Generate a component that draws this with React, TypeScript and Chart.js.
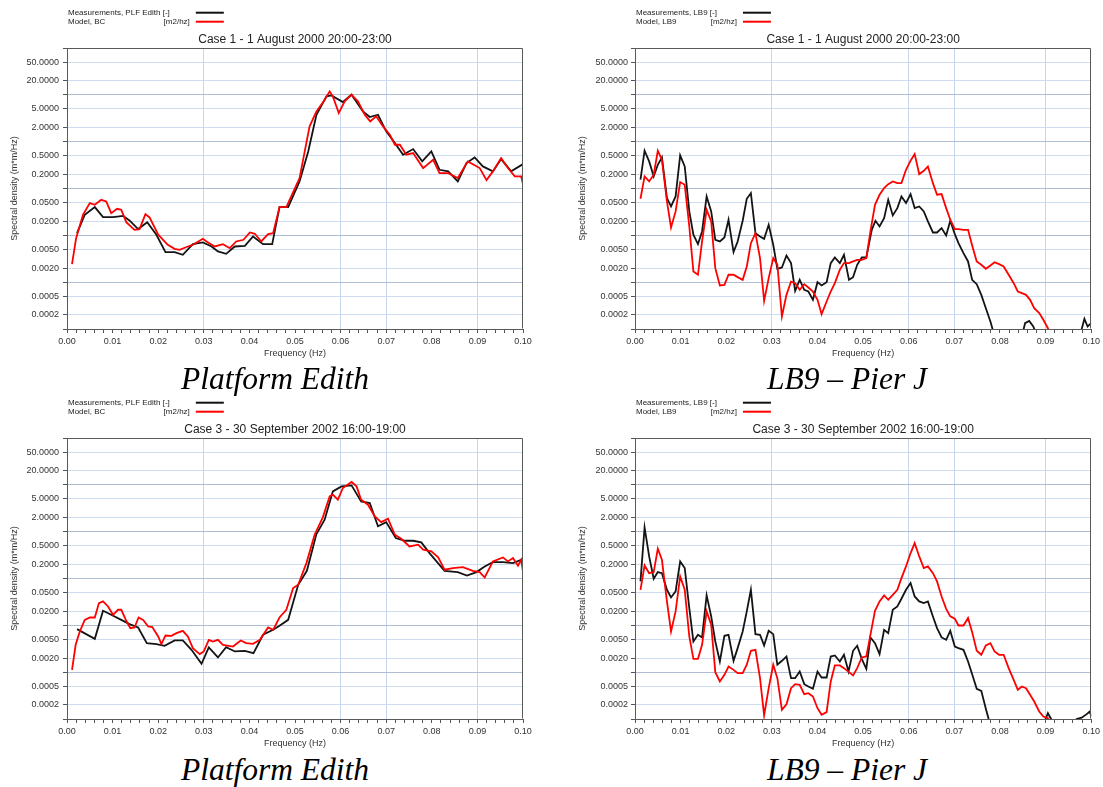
import React, { useEffect, useRef } from 'react';
import { Chart, registerables } from 'chart.js';

Chart.register(...registerables);

type Pt = [number, number];

const FONT = 'Arial, "Liberation Sans", Helvetica, sans-serif';

// ---- axis definitions ----
const Y_TICKS = [0.0001, 0.0002, 0.0005, 0.001, 0.002, 0.005, 0.01, 0.02, 0.05, 0.1, 0.2, 0.5, 1, 2, 5, 10, 20, 50, 100];
const Y_LABELED = [0.0002, 0.0005, 0.002, 0.005, 0.02, 0.05, 0.2, 0.5, 2, 5, 20, 50];
const Y_DECADES = [0.001, 0.01, 0.1, 1, 10];
const X_GRID = [0.03, 0.06, 0.07, 0.09];
const X_TITLE = 'Frequency (Hz)';
const Y_TITLE = 'Spectral density (m*m/Hz)';
const UNIT_LABEL = '[m2/hz]';

// ---- titles / captions ----
const TITLE_CASE1 = 'Case 1 - 1 August 2000 20:00-23:00';
const TITLE_CASE3 = 'Case 3 - 30 September 2002 16:00-19:00';
const CAPTION_EDITH = 'Platform Edith';
const CAPTION_LB9 = 'LB9 \u2013 Pier J';

// ---- data: [frequency (Hz), spectral density] ----
const edithCase1Meas: Pt[] = [
  [0.0022, 0.0111], [0.0039, 0.0275], [0.0061, 0.0401], [0.0079, 0.0245], [0.0101, 0.0245], [0.0123, 0.0261],
  [0.0137, 0.0208], [0.0156, 0.0136], [0.0176, 0.0191], [0.0196, 0.0103], [0.0216, 0.00438], [0.0236, 0.00438],
  [0.0254, 0.00384], [0.0276, 0.00649], [0.0298, 0.00705], [0.0317, 0.00578], [0.0331, 0.00452], [0.0349, 0.00403],
  [0.0368, 0.00578], [0.039, 0.00597], [0.0408, 0.00946], [0.043, 0.00649], [0.045, 0.00649], [0.0466, 0.0401],
  [0.0485, 0.0401], [0.051, 0.1416], [0.0529, 0.619], [0.0547, 3.76], [0.0569, 9.27], [0.058, 9.74],
  [0.0605, 7.02], [0.0624, 10.07], [0.0649, 4.43], [0.0664, 3.36], [0.0682, 3.76], [0.07, 1.66],
  [0.0719, 0.933], [0.0737, 0.526], [0.0759, 0.695], [0.0779, 0.379], [0.0799, 0.619], [0.0817, 0.251],
  [0.0836, 0.232], [0.0857, 0.1416], [0.0876, 0.349], [0.0894, 0.461], [0.0912, 0.296], [0.0934, 0.232],
  [0.0952, 0.425], [0.0974, 0.232], [0.1, 0.332],
];
const edithCase1Model: Pt[] = [
  [0.0011, 0.00243], [0.002, 0.00871], [0.0035, 0.0275], [0.005, 0.0488], [0.0061, 0.0449], [0.0075, 0.0574],
  [0.0086, 0.053], [0.0097, 0.0298], [0.011, 0.0369], [0.0119, 0.0351], [0.013, 0.0191], [0.0148, 0.0131],
  [0.0159, 0.0136], [0.0172, 0.0284], [0.0181, 0.0241], [0.02, 0.0103], [0.0221, 0.00628], [0.0236, 0.00515],
  [0.0247, 0.00491], [0.0265, 0.00578], [0.0276, 0.00628], [0.0298, 0.00843], [0.0306, 0.0074], [0.0324, 0.00578],
  [0.0342, 0.00649], [0.0357, 0.00532], [0.0371, 0.0074], [0.0387, 0.00803], [0.0401, 0.0115], [0.0412, 0.0108],
  [0.0426, 0.0074], [0.0441, 0.0106], [0.0452, 0.0111], [0.0466, 0.0401], [0.0481, 0.0401], [0.051, 0.167],
  [0.0532, 2.12], [0.0547, 4.43], [0.0563, 7.25], [0.0576, 11.86], [0.0583, 9.27], [0.0596, 4.08],
  [0.0609, 7.25], [0.0624, 10.07], [0.0638, 7.25], [0.0653, 3.76], [0.0665, 2.71], [0.0678, 3.47],
  [0.0693, 2.12], [0.0708, 1.41], [0.0719, 0.86], [0.073, 0.86], [0.0744, 0.526], [0.0759, 0.57],
  [0.0781, 0.273], [0.0803, 0.411], [0.0817, 0.213], [0.0836, 0.213], [0.0857, 0.167], [0.0879, 0.379],
  [0.0905, 0.273], [0.092, 0.151], [0.0934, 0.232], [0.0952, 0.447], [0.0967, 0.273], [0.0982, 0.181],
  [0.0996, 0.181], [0.1, 0.124],
];
const edithCase3Meas: Pt[] = [
  [0.0022, 0.0083], [0.0061, 0.00515], [0.0079, 0.0205], [0.0097, 0.0168], [0.0119, 0.0131], [0.0137, 0.0106],
  [0.0156, 0.009], [0.0175, 0.00417], [0.0196, 0.00397], [0.0214, 0.00366], [0.0236, 0.00475], [0.0254, 0.00475],
  [0.0273, 0.003], [0.0295, 0.00151], [0.0311, 0.00337], [0.0331, 0.00206], [0.0349, 0.00342], [0.0368, 0.00277],
  [0.039, 0.00286], [0.0409, 0.00255], [0.043, 0.00628], [0.0452, 0.00803], [0.0466, 0.00977], [0.0485, 0.0131],
  [0.0507, 0.0735], [0.0526, 0.146], [0.0547, 0.889], [0.0565, 1.8], [0.0583, 7.25], [0.0602, 9.27],
  [0.0624, 9.74], [0.0645, 4.43], [0.0664, 4.08], [0.0682, 1.3], [0.07, 1.6], [0.0721, 0.73],
  [0.0741, 0.64], [0.0759, 0.64], [0.0777, 0.59], [0.0795, 0.349], [0.0828, 0.146], [0.0857, 0.137],
  [0.0877, 0.116], [0.0898, 0.137], [0.0916, 0.181], [0.0934, 0.224], [0.0956, 0.224], [0.0978, 0.213],
  [0.1, 0.26],
];
const edithCase3Model: Pt[] = [
  [0.0011, 0.00112], [0.0019, 0.00384], [0.0028, 0.0074], [0.0039, 0.0131], [0.005, 0.0147], [0.0061, 0.0147],
  [0.007, 0.0298], [0.0079, 0.0324], [0.009, 0.0253], [0.0101, 0.0168], [0.0112, 0.0215], [0.0119, 0.0215],
  [0.013, 0.0125], [0.0139, 0.00871], [0.0148, 0.009], [0.0157, 0.0147], [0.0167, 0.0131], [0.0178, 0.00946],
  [0.0187, 0.0092], [0.02, 0.00578], [0.0207, 0.00397], [0.0216, 0.00607], [0.0229, 0.00597], [0.024, 0.00681],
  [0.0254, 0.00764], [0.0265, 0.00578], [0.0276, 0.00326], [0.0291, 0.00243], [0.03, 0.00277], [0.0311, 0.00491],
  [0.032, 0.00452], [0.0331, 0.00491], [0.0342, 0.00384], [0.0364, 0.00353], [0.0381, 0.00475], [0.0393, 0.00417],
  [0.0408, 0.00403], [0.0423, 0.00491], [0.0441, 0.009], [0.0452, 0.00803], [0.0466, 0.0147], [0.0481, 0.0215],
  [0.0496, 0.0624], [0.0507, 0.0735], [0.0525, 0.213], [0.0543, 0.86], [0.0561, 2.02], [0.0576, 5.67],
  [0.0583, 6.15], [0.0594, 4.81], [0.0605, 8.55], [0.0624, 11.5], [0.0635, 9.27], [0.0645, 4.81],
  [0.066, 3.76], [0.0675, 2.12], [0.0689, 1.6], [0.0704, 1.89], [0.0719, 0.86], [0.0733, 0.706],
  [0.0751, 0.484], [0.077, 0.526], [0.0781, 0.411], [0.0799, 0.379], [0.0814, 0.282], [0.0828, 0.154],
  [0.0846, 0.167], [0.0868, 0.175], [0.089, 0.146], [0.0905, 0.137], [0.0916, 0.105], [0.0934, 0.232],
  [0.0956, 0.282], [0.0967, 0.232], [0.0978, 0.273], [0.0989, 0.187], [0.0996, 0.251], [0.1, 0.1416],
];
const lb9Case1Meas: Pt[] = [
  [0.0012, 0.154], [0.0021, 0.64], [0.0031, 0.379], [0.0041, 0.181], [0.005, 0.321], [0.0059, 0.461],
  [0.007, 0.0624], [0.0079, 0.0414], [0.0089, 0.0677], [0.0099, 0.509], [0.0109, 0.296], [0.0119, 0.0324],
  [0.0128, 0.0103], [0.0138, 0.00649], [0.0147, 0.0121], [0.0157, 0.0677], [0.0167, 0.0324], [0.0176, 0.00803],
  [0.0186, 0.0074], [0.0196, 0.009], [0.0205, 0.0215], [0.0216, 0.00438], [0.0225, 0.0074], [0.0236, 0.0205],
  [0.0245, 0.0604], [0.0254, 0.0798], [0.0264, 0.0111], [0.0274, 0.00946], [0.0283, 0.00843], [0.0293, 0.0168],
  [0.0303, 0.00628], [0.0312, 0.00193], [0.0322, 0.00206], [0.0332, 0.00372], [0.0342, 0.00255], [0.0351, 0.000653],
  [0.0361, 0.00112], [0.0371, 0.000686], [0.038, 0.000632], [0.039, 0.00042], [0.04, 0.001], [0.0409, 0.000849],
  [0.042, 0.001], [0.0429, 0.00255], [0.0438, 0.00337], [0.0449, 0.00255], [0.0458, 0.00384], [0.0469, 0.00112],
  [0.0478, 0.00128], [0.0487, 0.00235], [0.0497, 0.00337], [0.0507, 0.00337], [0.0519, 0.0131], [0.0527, 0.0205],
  [0.0536, 0.0155], [0.0546, 0.0233], [0.0555, 0.0574], [0.0565, 0.0266], [0.0575, 0.0381], [0.0584, 0.0677],
  [0.0594, 0.0488], [0.0604, 0.0759], [0.0613, 0.0381], [0.0623, 0.0414], [0.0633, 0.0324], [0.0642, 0.0198],
  [0.0653, 0.0115], [0.0662, 0.0115], [0.0672, 0.0143], [0.0682, 0.00993], [0.0691, 0.0205], [0.0701, 0.0106],
  [0.0709, 0.00681], [0.072, 0.00417], [0.073, 0.00277], [0.0739, 0.00112], [0.0749, 0.000906], [0.0759, 0.000536],
  [0.0769, 0.000278], [0.0779, 0.000145], [0.079, 0.00006], [0.0848, 0.00007], [0.0855, 0.000133], [0.0864, 0.000149],
  [0.0873, 0.000113], [0.0884, 0.00006], [0.0975, 0.00007], [0.0985, 0.000165], [0.0992, 0.000113], [0.1, 0.000133],
];
const lb9Case1Model: Pt[] = [
  [0.0012, 0.0604], [0.0021, 0.181], [0.0031, 0.1416], [0.0041, 0.197], [0.005, 0.64], [0.0059, 0.411],
  [0.007, 0.053], [0.0079, 0.0147], [0.0089, 0.0324], [0.0099, 0.137], [0.0109, 0.12], [0.0119, 0.0155],
  [0.0128, 0.00169], [0.0138, 0.00144], [0.0147, 0.0074], [0.0157, 0.0351], [0.0167, 0.0198], [0.0176, 0.00199],
  [0.0186, 0.000849], [0.0196, 0.000877], [0.0205, 0.00144], [0.0216, 0.00144], [0.0225, 0.00128], [0.0236, 0.00112],
  [0.0245, 0.00216], [0.0254, 0.00681], [0.0264, 0.0111], [0.0274, 0.00326], [0.0283, 0.000399], [0.0293, 0.00122],
  [0.0303, 0.00326], [0.0312, 0.00235], [0.0322, 0.000185], [0.0332, 0.000536], [0.0342, 0.00103], [0.0351, 0.000952],
  [0.0361, 0.000686], [0.0371, 0.000906], [0.038, 0.000769], [0.039, 0.000632], [0.04, 0.00042], [0.0409, 0.000207],
  [0.042, 0.000386], [0.0429, 0.000632], [0.0438, 0.000952], [0.0449, 0.00184], [0.0458, 0.00255], [0.0469, 0.00255],
  [0.0478, 0.00277], [0.0487, 0.003], [0.0497, 0.003], [0.0507, 0.00326], [0.0516, 0.0121], [0.0526, 0.0449],
  [0.0536, 0.0735], [0.0546, 0.102], [0.0555, 0.124], [0.0565, 0.1416], [0.0575, 0.13], [0.0584, 0.13],
  [0.0594, 0.251], [0.0604, 0.392], [0.0613, 0.543], [0.0623, 0.203], [0.0633, 0.239], [0.0642, 0.296],
  [0.0653, 0.13], [0.0662, 0.0735], [0.0672, 0.0759], [0.0682, 0.0381], [0.0691, 0.0215], [0.0701, 0.0136],
  [0.0709, 0.0136], [0.072, 0.0131], [0.073, 0.0131], [0.0739, 0.00607], [0.0749, 0.00277], [0.0759, 0.00235],
  [0.0769, 0.00193], [0.0779, 0.00227], [0.0788, 0.00267], [0.0798, 0.00243], [0.0808, 0.00216], [0.0819, 0.00144],
  [0.083, 0.000952], [0.0839, 0.000632], [0.0848, 0.000582], [0.0857, 0.000536], [0.0866, 0.00042], [0.0875, 0.000278],
  [0.0886, 0.000218], [0.0895, 0.000157], [0.0905, 0.000104], [0.0913, 0.00007],
];
const lb9Case3Meas: Pt[] = [
  [0.0012, 0.0866], [0.0021, 1.23], [0.0031, 0.296], [0.0041, 0.0987], [0.005, 0.137], [0.0059, 0.13],
  [0.007, 0.0574], [0.0079, 0.0394], [0.0089, 0.053], [0.0099, 0.232], [0.0109, 0.167], [0.0119, 0.0233],
  [0.0128, 0.00452], [0.0138, 0.00628], [0.0147, 0.00551], [0.0157, 0.0435], [0.0167, 0.0155], [0.0176, 0.00452],
  [0.0186, 0.00169], [0.0196, 0.00597], [0.0205, 0.00628], [0.0216, 0.00175], [0.0225, 0.00326], [0.0236, 0.0074],
  [0.0245, 0.0198], [0.0254, 0.0574], [0.0264, 0.00649], [0.0274, 0.00628], [0.0283, 0.00372], [0.0293, 0.00764],
  [0.0303, 0.00649], [0.0312, 0.00144], [0.0322, 0.00175], [0.0332, 0.00216], [0.0342, 0.000745], [0.0351, 0.000745],
  [0.0361, 0.00103], [0.0371, 0.000554], [0.038, 0.000494], [0.039, 0.000441], [0.04, 0.00103], [0.0409, 0.000769],
  [0.042, 0.000769], [0.0429, 0.00216], [0.0438, 0.00227], [0.0449, 0.00169], [0.0458, 0.00235], [0.0468, 0.00103],
  [0.0478, 0.00286], [0.0487, 0.00366], [0.0497, 0.00193], [0.0507, 0.00118], [0.0516, 0.00551], [0.0526, 0.00417],
  [0.0536, 0.00243], [0.0546, 0.00803], [0.0555, 0.00681], [0.0565, 0.0215], [0.0575, 0.0253], [0.0584, 0.0369],
  [0.0594, 0.0574], [0.0604, 0.0798], [0.0613, 0.0414], [0.0623, 0.0324], [0.0633, 0.0298], [0.0642, 0.0324],
  [0.0653, 0.0155], [0.0662, 0.00871], [0.0672, 0.00551], [0.0682, 0.00491], [0.0691, 0.00764], [0.0701, 0.00353],
  [0.0709, 0.00326], [0.072, 0.003], [0.073, 0.00169], [0.0739, 0.000906], [0.0749, 0.000441], [0.0759, 0.000399],
  [0.0769, 0.000165], [0.0775, 0.000101], [0.0782, 0.00006], [0.0891, 0.00006], [0.0905, 0.000133], [0.0912, 0.0001],
  [0.0921, 0.00006], [0.0957, 0.00006], [0.0968, 0.0001], [0.0979, 0.000107], [0.099, 0.000127], [0.0997, 0.000145],
  [0.1, 0.000113],
];
const lb9Case3Model: Pt[] = [
  [0.0012, 0.0574], [0.0021, 0.19], [0.0031, 0.13], [0.0041, 0.137], [0.005, 0.432], [0.0059, 0.251],
  [0.007, 0.0324], [0.0079, 0.0074], [0.0089, 0.0198], [0.0099, 0.111], [0.0109, 0.0574], [0.0119, 0.00578],
  [0.0128, 0.00193], [0.0138, 0.00193], [0.0147, 0.00384], [0.0157, 0.0198], [0.0167, 0.0103], [0.0176, 0.001],
  [0.0186, 0.000632], [0.0196, 0.000877], [0.0205, 0.00132], [0.0216, 0.00112], [0.0225, 0.000952], [0.0236, 0.000952],
  [0.0245, 0.00144], [0.0254, 0.00286], [0.0264, 0.003], [0.0274, 0.000745], [0.0283, 0.000119], [0.0293, 0.000455],
  [0.0303, 0.00144], [0.0312, 0.000745], [0.0322, 0.000157], [0.0332, 0.000207], [0.0342, 0.000455], [0.0351, 0.000554],
  [0.0361, 0.000536], [0.0371, 0.000339], [0.038, 0.000356], [0.039, 0.000302], [0.04, 0.00017], [0.0409, 0.000123],
  [0.042, 0.00014], [0.0429, 0.000632], [0.0438, 0.00139], [0.0449, 0.00139], [0.0458, 0.00122], [0.0469, 0.001],
  [0.0478, 0.000849], [0.0487, 0.00122], [0.0497, 0.00206], [0.0507, 0.00216], [0.0516, 0.00628], [0.0526, 0.0205],
  [0.0536, 0.0324], [0.0546, 0.0435], [0.0555, 0.0351], [0.0565, 0.0449], [0.0575, 0.0574], [0.0584, 0.102],
  [0.0594, 0.181], [0.0604, 0.349], [0.0613, 0.57], [0.0623, 0.296], [0.0633, 0.167], [0.0642, 0.181],
  [0.0653, 0.13], [0.0662, 0.0866], [0.0672, 0.0414], [0.0682, 0.0225], [0.0691, 0.0155], [0.0701, 0.0138],
  [0.0709, 0.00993], [0.072, 0.00993], [0.073, 0.0143], [0.0739, 0.00716], [0.0749, 0.00286], [0.0759, 0.00235],
  [0.0769, 0.00372], [0.0779, 0.00417], [0.0788, 0.00277], [0.0798, 0.00235], [0.0808, 0.00235], [0.0819, 0.00122],
  [0.083, 0.000686], [0.0839, 0.00042], [0.0848, 0.000494], [0.0857, 0.000455], [0.0866, 0.000328], [0.0875, 0.000236],
  [0.0886, 0.000145], [0.0895, 0.000113], [0.0905, 0.000104], [0.091, 0.00007],
];

interface PanelCfg {
  key: string;
  left: number;
  top: number;
  width: number;
  height: number;
  padLeft: number;
  padRight: number;
  labelPad: number;
  title: string;
  measLabel: string;
  modelLabel: string;
  meas: Pt[];
  model: Pt[];
}

const PANELS: PanelCfg[] = [
  { key: 'tl', left: 0, top: 0, width: 552, height: 362, padLeft: 0, padRight: 29, labelPad: 4, title: TITLE_CASE1,
    measLabel: 'Measurements, PLF Edith [-]', modelLabel: 'Model, BC', meas: edithCase1Meas, model: edithCase1Model },
  { key: 'tr', left: 560, top: 0, width: 543, height: 362, padLeft: 8, padRight: 10, labelPad: 3, title: TITLE_CASE1,
    measLabel: 'Measurements, LB9 [-]', modelLabel: 'Model, LB9', meas: lb9Case1Meas, model: lb9Case1Model },
  { key: 'bl', left: 0, top: 390, width: 552, height: 362, padLeft: 0, padRight: 29, labelPad: 4, title: TITLE_CASE3,
    measLabel: 'Measurements, PLF Edith [-]', modelLabel: 'Model, BC', meas: edithCase3Meas, model: edithCase3Model },
  { key: 'br', left: 560, top: 390, width: 543, height: 362, padLeft: 8, padRight: 10, labelPad: 3, title: TITLE_CASE3,
    measLabel: 'Measurements, LB9 [-]', modelLabel: 'Model, LB9', meas: lb9Case3Meas, model: lb9Case3Model },
];

const CAPTIONS = [
  { text: CAPTION_EDITH, cx: 275, top: 363 },
  { text: CAPTION_LB9, cx: 847, top: 363 },
  { text: CAPTION_EDITH, cx: 275, top: 754 },
  { text: CAPTION_LB9, cx: 847, top: 754 },
];

const near = (a: number, b: number) => Math.abs(a - b) <= Math.abs(b) * 1e-6 + 1e-12;

const decorPlugin = {
  id: 'decor',
  afterDraw(chart: any) {
    const cfg = chart.options.plugins.decor as { title: string; measLabel: string; modelLabel: string };
    const { ctx, chartArea: a } = chart;
    ctx.save();
    // frame
    ctx.strokeStyle = '#5a5a5a';
    ctx.lineWidth = 1;
    const l = Math.round(a.left) + 0.5;
    const t = Math.round(a.top) + 0.5;
    const r = Math.round(a.right) - 0.5;
    const b = Math.round(a.bottom) - 0.5;
    ctx.beginPath();
    ctx.moveTo(l, b);
    ctx.lineTo(l, t);
    ctx.lineTo(r, t);
    ctx.lineTo(r, b);
    ctx.stroke();
    // title
    ctx.fillStyle = '#222';
    ctx.font = `12px ${FONT}`;
    ctx.textAlign = 'center';
    ctx.textBaseline = 'middle';
    ctx.fillText(cfg.title, (a.left + a.right) / 2, a.top - 8);
    // legend
    ctx.font = `8px ${FONT}`;
    ctx.textAlign = 'left';
    const y1 = a.top - 35.3;
    const y2 = a.top - 26.3;
    const x0 = a.left + 1;
    ctx.fillText(cfg.measLabel, x0, y1);
    ctx.fillText(cfg.modelLabel, x0, y2);
    const w = ctx.measureText(cfg.measLabel).width;
    const ls = x0 + w + 26;
    ctx.textAlign = 'right';
    ctx.fillText(UNIT_LABEL, ls - 6, y2);
    ctx.lineWidth = 2;
    ctx.strokeStyle = '#111';
    ctx.beginPath();
    ctx.moveTo(ls, y1);
    ctx.lineTo(ls + 28, y1);
    ctx.stroke();
    ctx.strokeStyle = '#ff0000';
    ctx.beginPath();
    ctx.moveTo(ls, y2);
    ctx.lineTo(ls + 28, y2);
    ctx.stroke();
    ctx.restore();
  },
};

function SpectrumPanel({ cfg }: { cfg: PanelCfg }) {
  const ref = useRef<HTMLCanvasElement>(null);
  useEffect(() => {
    if (!ref.current) return;
    const chart = new Chart(ref.current, {
      type: 'line',
      data: {
        datasets: [
          {
            label: cfg.modelLabel,
            data: cfg.model.map(([x, y]) => ({ x, y })),
            borderColor: '#ff0000',
            borderWidth: 1.8,
            pointRadius: 0,
            tension: 0,
            fill: false,
            order: 0,
          },
          {
            label: cfg.measLabel,
            data: cfg.meas.map(([x, y]) => ({ x, y })),
            borderColor: '#141414',
            borderWidth: 1.8,
            pointRadius: 0,
            tension: 0,
            fill: false,
            order: 1,
          },
        ],
      },
      options: {
        responsive: false,
        animation: false,
        events: [],
        layout: { padding: { left: cfg.padLeft, right: cfg.padRight, top: 48, bottom: 0 } },
        plugins: {
          legend: { display: false },
          tooltip: { enabled: false },
          title: { display: false },
          decor: { title: cfg.title, measLabel: cfg.measLabel, modelLabel: cfg.modelLabel },
        } as any,
        scales: {
          x: {
            type: 'linear',
            min: 0,
            max: 0.1,
            afterBuildTicks: (scale: any) => {
              const ticks = [];
              for (let i = 0; i <= 50; i++) ticks.push({ value: (i * 2) / 1000 });
              scale.ticks = ticks;
            },
            afterFit: (scale: any) => {
              scale.height = 33;
            },
            ticks: {
              autoSkip: false,
              maxRotation: 0,
              padding: 3,
              color: '#333',
              font: { size: 9, family: FONT },
              callback: (value: any) => {
                const m = Math.round(Number(value) * 1000);
                return m % 10 === 0 ? (m / 1000).toFixed(2) : '';
              },
            },
            grid: {
              color: (c: any) => (c.tick && X_GRID.some((g) => near(c.tick.value, g)) ? '#c4d5ec' : 'rgba(0,0,0,0)'),
              tickColor: '#555',
              tickLength: 4,
              lineWidth: 1,
            },
            border: { display: true, color: '#5a5a5a', width: 1 },
            title: {
              display: true,
              text: X_TITLE,
              color: '#333',
              font: { size: 9, family: FONT },
              padding: { top: 0, bottom: 3.5 },
            },
          },
          y: {
            type: 'logarithmic',
            min: 0.0001,
            max: 100,
            afterBuildTicks: (scale: any) => {
              scale.ticks = Y_TICKS.map((v) => ({ value: v }));
            },
            afterFit: (scale: any) => {
              scale.width = 67;
            },
            ticks: {
              autoSkip: false,
              padding: cfg.labelPad,
              color: '#333',
              font: { size: 9, family: FONT },
              callback: (value: any) => {
                const v = Number(value);
                return Y_LABELED.some((l) => near(v, l)) ? v.toFixed(4) : '';
              },
            },
            grid: {
              color: (c: any) =>
                c.tick && Y_DECADES.some((d) => near(c.tick.value, d)) ? '#aebdd3' : '#cddcf1',
              tickColor: '#555',
              tickLength: 4,
              lineWidth: 1,
            },
            border: { display: true, color: '#5a5a5a', width: 1 },
            title: {
              display: true,
              text: Y_TITLE,
              color: '#333',
              font: { size: 9, family: FONT },
              padding: { top: 9, bottom: 0 },
            },
          },
        },
      },
      plugins: [decorPlugin as any],
    } as any);
    return () => chart.destroy();
  }, [cfg]);
  return (
    <canvas
      ref={ref}
      width={cfg.width}
      height={cfg.height}
      style={{ position: 'absolute', left: cfg.left, top: cfg.top, width: cfg.width, height: cfg.height }}
    />
  );
}

export default function App() {
  return (
    <div
      style={{
        position: 'absolute',
        left: 0,
        top: 0,
        width: 1103,
        height: 787,
        background: '#ffffff',
        overflow: 'hidden',
      }}
    >
      {PANELS.map((p) => (
        <SpectrumPanel key={p.key} cfg={p} />
      ))}
      {CAPTIONS.map((c, i) => (
        <div
          key={i}
          style={{
            position: 'absolute',
            left: c.cx - 150,
            top: c.top,
            width: 300,
            textAlign: 'center',
            fontFamily: '"Liberation Serif", "Times New Roman", serif',
            fontStyle: 'italic',
            fontSize: '31.5px',
            lineHeight: '31.5px',
            color: '#000',
            whiteSpace: 'nowrap',
          }}
        >
          {c.text}
        </div>
      ))}
    </div>
  );
}
